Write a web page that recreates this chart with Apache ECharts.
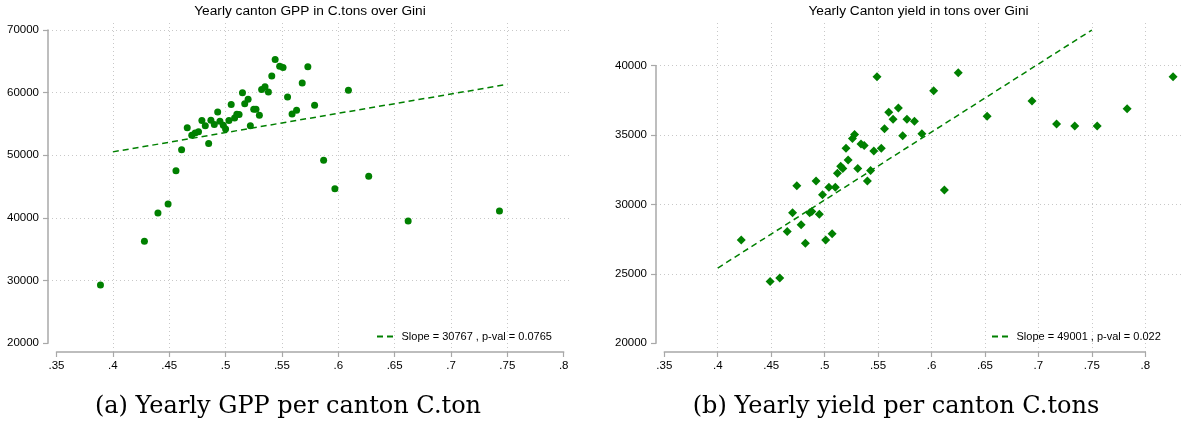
<!DOCTYPE html>
<html>
<head>
<meta charset="utf-8">
<script src="https://cdn.jsdelivr.net/npm/echarts@6/dist/echarts.min.js"></script>
<style>
  html, body { margin: 0; padding: 0; background: #fff; }
  #chart { width: 1183px; height: 437px; }
</style>
</head>
<body>
<div id="chart"></div>
<script>
// Panel (a): Gini coefficient vs yearly GPP per canton (C.tons)
const giniGPP = [0.389, 0.428, 0.440, 0.449, 0.456, 0.461, 0.466, 0.470, 0.473, 0.476,
  0.479, 0.482, 0.485, 0.487, 0.490, 0.493, 0.495, 0.498, 0.500, 0.503,
  0.505, 0.508, 0.510, 0.512, 0.515, 0.517, 0.520, 0.522, 0.525, 0.527,
  0.530, 0.532, 0.535, 0.538, 0.541, 0.544, 0.548, 0.551, 0.555, 0.559,
  0.563, 0.568, 0.573, 0.579, 0.587, 0.597, 0.609, 0.627, 0.662, 0.743];
const gpp = [29300, 36300, 40800, 42250, 47550, 50900, 54400, 53200, 53550, 53750,
  55550, 54700, 51900, 55600, 54900, 56900, 55450, 54800, 54200, 55550,
  58100, 55950, 56550, 56500, 60000, 58250, 58950, 54700, 57350, 57350,
  56400, 60500, 60950, 60100, 62650, 65300, 64200, 64000, 59300, 56600,
  57200, 61550, 64150, 58000, 49200, 44650, 60400, 46650, 39500, 41100];

// Panel (b): Gini coefficient vs yearly yield per canton (tons)
const giniYield = [0.422, 0.449, 0.458, 0.465, 0.470, 0.474, 0.478, 0.482, 0.486, 0.488,
  0.492, 0.495, 0.498, 0.501, 0.504, 0.507, 0.510, 0.512, 0.515, 0.517,
  0.520, 0.522, 0.526, 0.528, 0.531, 0.534, 0.537, 0.540, 0.543, 0.546,
  0.549, 0.553, 0.556, 0.560, 0.564, 0.569, 0.573, 0.577, 0.584, 0.591,
  0.602, 0.612, 0.625, 0.652, 0.694, 0.717, 0.734, 0.755, 0.783, 0.826];
const yieldTons = [27450, 24450, 24700, 28050, 29400, 31350, 28550, 27200, 29400, 29500,
  31700, 29300, 30700, 27450, 31250, 27900, 31250, 32250, 32750, 32600,
  34050, 33200, 34750, 35050, 32600, 34350, 34250, 31700, 32450, 33850,
  39200, 34050, 35450, 36650, 36150, 36950, 34950, 36150, 36000, 35100,
  38200, 31050, 39500, 36350, 37450, 35800, 35650, 35650, 36900, 39200];

// Linear fits (end points of the fitted line)
const fitGPPx = [0.40, 0.75];
const fitGPPy = [50550, 61320];
const fitYieldx = [0.40, 0.75];
const fitYieldy = [25420, 42570];
const fitGPPName = 'Slope = 30767 , p-val = 0.0765';
const fitYieldName = 'Slope = 49001 , p-val = 0.022';

// Axis ticks and labels
const xTicks = [0.35, 0.40, 0.45, 0.50, 0.55, 0.60, 0.65, 0.70, 0.75, 0.80];
const xTickLabels = ['.35', '.4', '.45', '.5', '.55', '.6', '.65', '.7', '.75', '.8'];
const yTicksGPP = [20000, 30000, 40000, 50000, 60000, 70000];
const yTicksYield = [20000, 25000, 30000, 35000, 40000];

// Grid lines drawn across each plot region
const xGridGPP = [0.40, 0.45, 0.50, 0.55, 0.60, 0.65, 0.70, 0.75];
const yGridGPP = [30000, 40000, 50000, 60000, 70000];
const xGridYield = [0.40, 0.45, 0.50, 0.55, 0.60, 0.65, 0.70, 0.75, 0.80];
const yGridYield = [25000, 30000, 35000, 40000];

const GREEN = '#008000';
const SANS = '"Liberation Sans", Arial, Helvetica, sans-serif';
const SERIF = '"DejaVu Serif", serif';
// two short dashes, used as the legend key of the fitted line
const DASH_ICON = 'path://M0,0H6V2H0Z M10,0H16V2H10Z';

function zip(a, b) { return a.map((v, i) => [v, b[i]]); }

function xLabel(v) {
  let best = 0;
  xTicks.forEach((t, i) => { if (Math.abs(t - v) < Math.abs(xTicks[best] - v)) best = i; });
  return xTickLabels[best];
}

// Panel geometry: inner box = labelled axis range, outer box = plot region
const panels = [
  {
    inner: { left: 56.5, top: 30, right: 563.7, bottom: 343.3 },
    outer: { left: 48, top: 23, right: 572, bottom: 352 },
    xRange: [0.35, 0.80], yRange: [20000, 70000], yInterval: 10000,
    yTicks: yTicksGPP, xGrid: xGridGPP, yGrid: yGridGPP,
    pts: zip(giniGPP, gpp), symbol: 'circle', symbolSize: 7,
    fit: zip(fitGPPx, fitGPPy), fitName: fitGPPName,
    legendLeft: 377,
    title: 'Yearly canton GPP in C.tons over Gini', titleX: 310,
    caption: '(a) Yearly GPP per canton C.ton', captionX: 288
  },
  {
    inner: { left: 664.3, top: 65.7, right: 1145.3, bottom: 343.3 },
    outer: { left: 656, top: 23, right: 1181, bottom: 352 },
    xRange: [0.35, 0.80], yRange: [20000, 40000], yInterval: 5000,
    yTicks: yTicksYield, xGrid: xGridYield, yGrid: yGridYield,
    pts: zip(giniYield, yieldTons), symbol: 'diamond', symbolSize: 9,
    fit: zip(fitYieldx, fitYieldy), fitName: fitYieldName,
    legendLeft: 992,
    title: 'Yearly Canton yield in tons over Gini', titleX: 918.5,
    caption: '(b) Yearly yield per canton C.tons', captionX: 896
  }
];

const grid = [], xAxis = [], yAxis = [], series = [], legend = [], graphic = [];

panels.forEach((p, k) => {
  const gi = grid.length;
  const I = p.inner, O = p.outer;
  grid.push({ left: I.left, top: I.top, width: I.right - I.left, height: I.bottom - I.top });
  grid.push({ left: O.left, top: O.top, width: O.right - O.left, height: O.bottom - O.top });

  // outer (plot region) axis ranges follow the inner scale
  const sx = (p.xRange[1] - p.xRange[0]) / (I.right - I.left);
  const sy = (p.yRange[1] - p.yRange[0]) / (I.bottom - I.top);
  const oxMin = p.xRange[0] - (I.left - O.left) * sx;
  const oxMax = p.xRange[1] + (O.right - I.right) * sx;
  const oyMin = p.yRange[0] - (O.bottom - I.bottom) * sy;
  const oyMax = p.yRange[1] + (I.top - O.top) * sy;

  const axisColor = '#a8a8a8';
  xAxis.push({
    gridIndex: gi, type: 'value', min: p.xRange[0], max: p.xRange[1], interval: 0.05,
    offset: O.bottom - I.bottom,
    axisLine: { show: true, lineStyle: { color: axisColor, width: 1.5 } },
    axisTick: { show: true, length: 5, lineStyle: { color: axisColor, width: 1.2 } },
    axisLabel: { formatter: xLabel, margin: 8, color: '#000', fontSize: 11.5, fontFamily: SANS },
    splitLine: { show: false }
  });
  xAxis.push({ gridIndex: gi + 1, type: 'value', min: oxMin, max: oxMax, show: false, splitLine: { show: false } });

  yAxis.push({
    gridIndex: gi, type: 'value', min: p.yRange[0], max: p.yRange[1], interval: p.yInterval,
    offset: I.left - O.left,
    axisLine: { show: true, lineStyle: { color: axisColor, width: 1.5 } },
    axisTick: { show: true, length: 5, lineStyle: { color: axisColor, width: 1.2 } },
    axisLabel: { formatter: v => String(Math.round(v)), margin: 9, color: '#000', fontSize: 11.5, fontFamily: SANS },
    splitLine: { show: false }
  });
  yAxis.push({ gridIndex: gi + 1, type: 'value', min: oyMin, max: oyMax, show: false, splitLine: { show: false } });

  const axI = k * 2, axO = k * 2 + 1;

  // dotted grid lines, kept beneath the markers
  series.push({
    type: 'line', xAxisIndex: axO, yAxisIndex: axO, data: [], silent: true, z: 0,
    markLine: {
      z: 0, silent: true, symbol: ['none', 'none'], animation: false,
      label: { show: false },
      emphasis: { disabled: true },
      lineStyle: { color: '#c8c8c8', type: [1, 3], width: 1 },
      data: p.xGrid.map(v => ({ xAxis: v })).concat(p.yGrid.map(v => ({ yAxis: v })))
    }
  });

  series.push({
    type: 'scatter', xAxisIndex: axI, yAxisIndex: axI, data: p.pts, clip: false,
    symbol: p.symbol, symbolSize: p.symbolSize, itemStyle: { color: GREEN, opacity: 1 }, z: 3
  });

  series.push({
    type: 'line', name: p.fitName, xAxisIndex: axI, yAxisIndex: axI, data: p.fit, clip: false,
    symbol: 'none', showSymbol: false, z: 4,
    lineStyle: { color: GREEN, width: 1.5, type: [6, 4] }, itemStyle: { color: GREEN }
  });

  legend.push({
    data: [{ name: p.fitName, icon: DASH_ICON }], left: p.legendLeft, top: 331, itemWidth: 17, itemHeight: 2,
    padding: 0, selectedMode: false, itemGap: 0,
    itemStyle: { color: GREEN, borderWidth: 0 },
    textStyle: { color: '#000', fontSize: 11, fontFamily: SANS, padding: [0, 0, 0, 3] }
  });

  graphic.push({
    type: 'text', x: p.titleX, y: 11,
    style: { text: p.title, fill: '#000', font: '13.7px ' + SANS,
      textAlign: 'center', textVerticalAlign: 'middle', align: 'center', verticalAlign: 'middle' }
  });
  graphic.push({
    type: 'text', x: p.captionX, y: 407,
    style: { text: p.caption, fill: '#000', font: '24px ' + SERIF,
      textAlign: 'center', textVerticalAlign: 'middle', align: 'center', verticalAlign: 'middle' }
  });
});

const chart = echarts.init(document.getElementById('chart'), null, { renderer: 'canvas' });
chart.setOption({
  animation: false,
  backgroundColor: '#fff',
  grid, xAxis, yAxis, series, legend, graphic
});
</script>
</body>
</html>
